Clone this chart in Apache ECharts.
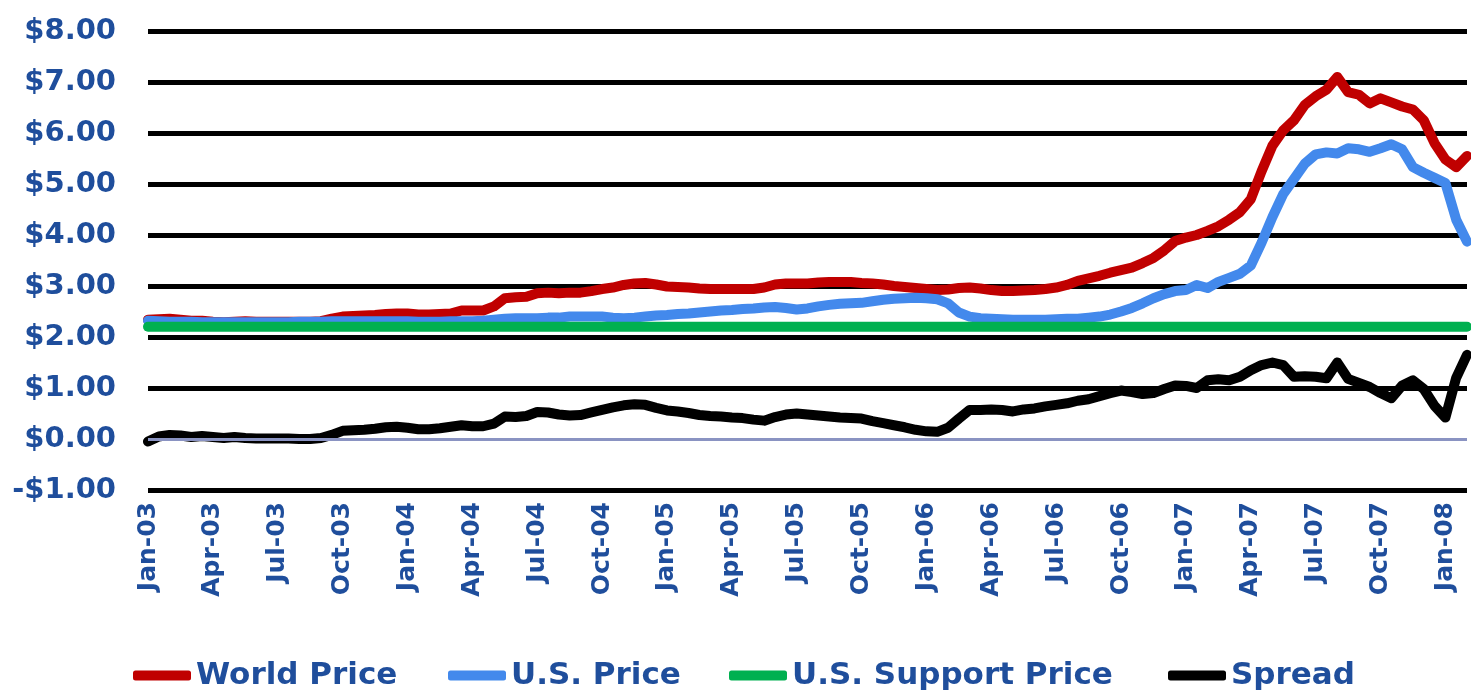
<!DOCTYPE html>
<html>
<head>
<meta charset="utf-8">
<script src="https://cdn.jsdelivr.net/npm/echarts@6.0.0/dist/echarts.min.js"></script>
<style>
  html, body { margin: 0; padding: 0; background: #fff; }
  #chart { width: 1471px; height: 696px; }
</style>
</head>
<body>
<div id="chart"></div>
<script>
// semi-monthly observations, Jan 2003 .. Feb 2008
const periods = [];
for (let y = 2003; y <= 2008; y++) {
  for (let m = 1; m <= 12; m++) {
    periods.push(y + "-" + m + "-01", y + "-" + m + "-15");
  }
}
periods.length = 123;

const quarterLabels = [
  "Jan-03", "Apr-03", "Jul-03", "Oct-03",
  "Jan-04", "Apr-04", "Jul-04", "Oct-04",
  "Jan-05", "Apr-05", "Jul-05", "Oct-05",
  "Jan-06", "Apr-06", "Jul-06", "Oct-06",
  "Jan-07", "Apr-07", "Jul-07", "Oct-07",
  "Jan-08",
];

const worldPrice = [
  2.34, 2.35, 2.36, 2.34, 2.32, 2.32, 2.30, 2.29, 2.30, 2.31,
  2.30, 2.30, 2.30, 2.30, 2.30, 2.30, 2.31, 2.36, 2.40, 2.41,
  2.42, 2.43, 2.45, 2.46, 2.46, 2.44, 2.44, 2.45, 2.46, 2.52,
  2.52, 2.52, 2.60, 2.76, 2.78, 2.79, 2.86, 2.87, 2.86, 2.87,
  2.87, 2.90, 2.94, 2.97, 3.02, 3.05, 3.06, 3.03, 2.99, 2.98,
  2.97, 2.95, 2.94, 2.94, 2.94, 2.94, 2.94, 2.97, 3.03, 3.05,
  3.05, 3.05, 3.07, 3.08, 3.08, 3.08, 3.06, 3.05, 3.03, 3.00,
  2.98, 2.96, 2.94, 2.92, 2.93, 2.96, 2.97, 2.95, 2.92, 2.90,
  2.90, 2.91, 2.92, 2.94, 2.97, 3.02, 3.10, 3.15, 3.20, 3.26,
  3.31, 3.36, 3.45, 3.55, 3.70, 3.88, 3.95, 4.00, 4.08, 4.17,
  4.30, 4.45, 4.70, 5.25, 5.75, 6.05, 6.25, 6.55, 6.72, 6.85,
  7.10, 6.80, 6.75, 6.58, 6.68, 6.60, 6.52, 6.46, 6.25, 5.80,
  5.48, 5.33, 5.55,
];

const usPrice = [
  2.32, 2.31, 2.30, 2.30, 2.30, 2.29, 2.29, 2.29, 2.29, 2.29,
  2.29, 2.29, 2.29, 2.29, 2.30, 2.30, 2.30, 2.31, 2.31, 2.31,
  2.31, 2.31, 2.31, 2.31, 2.31, 2.30, 2.30, 2.30, 2.31, 2.31,
  2.31, 2.32, 2.34, 2.36, 2.37, 2.37, 2.37, 2.38, 2.38, 2.40,
  2.40, 2.40, 2.40, 2.38, 2.37, 2.38, 2.40, 2.42, 2.43, 2.45,
  2.46, 2.48, 2.50, 2.52, 2.53, 2.55, 2.56, 2.58, 2.59, 2.57,
  2.54, 2.56, 2.60, 2.63, 2.65, 2.66, 2.67, 2.70, 2.73, 2.75,
  2.76, 2.77, 2.76, 2.74, 2.66, 2.48, 2.40, 2.37, 2.36, 2.35,
  2.34, 2.34, 2.34, 2.34, 2.35, 2.36, 2.36, 2.38, 2.40, 2.44,
  2.50, 2.57, 2.66, 2.76, 2.84, 2.90, 2.92, 3.02, 2.96, 3.08,
  3.16, 3.24, 3.40, 3.85, 4.35, 4.80, 5.10, 5.40, 5.58, 5.62,
  5.60, 5.70, 5.68, 5.63, 5.70, 5.78, 5.68, 5.33, 5.22, 5.12,
  5.02, 4.30, 3.87,
];

const supportPriceLevel = 2.2;
const supportPrice = periods.map(() => supportPriceLevel);

const spread = [
  -0.05, 0.05, 0.08, 0.07, 0.04, 0.06, 0.04, 0.02, 0.04, 0.02,
  0.01, 0.01, 0.01, 0.01, 0.00, 0.00, 0.02, 0.08, 0.16, 0.17,
  0.18, 0.20, 0.23, 0.24, 0.22, 0.19, 0.19, 0.21, 0.24, 0.27,
  0.25, 0.25, 0.30, 0.44, 0.43, 0.45, 0.53, 0.52, 0.48, 0.46,
  0.47, 0.52, 0.57, 0.62, 0.66, 0.68, 0.67, 0.61, 0.56, 0.54,
  0.51, 0.47, 0.45, 0.44, 0.42, 0.41, 0.38, 0.36, 0.43, 0.48,
  0.50, 0.48, 0.46, 0.44, 0.42, 0.41, 0.40, 0.35, 0.31, 0.27,
  0.23, 0.18, 0.15, 0.14, 0.22, 0.40, 0.57, 0.57, 0.58, 0.57,
  0.54, 0.58, 0.60, 0.64, 0.67, 0.70, 0.75, 0.78, 0.84, 0.90,
  0.95, 0.92, 0.88, 0.90, 0.98, 1.05, 1.04, 1.00, 1.15, 1.17,
  1.15, 1.22, 1.35, 1.45, 1.50, 1.45, 1.22, 1.23, 1.22, 1.19,
  1.50, 1.18, 1.10, 1.02, 0.90, 0.80, 1.05, 1.15, 0.98, 0.65,
  0.42, 1.20, 1.65,
];

const seriesNames = ["World Price", "U.S. Price", "U.S. Support Price", "Spread"];

const labelBlue = "#1f4e9c";
const fontFamily = '"DejaVu Sans", sans-serif';

const chart = echarts.init(document.getElementById("chart"));

const legendLeft = [133, 448, 729, 1168];
const legendItem = (name, left) => ({
  data: [name],
  left: left,
  top: 660,
  padding: 0,
  icon: "roundRect",
  itemWidth: 58,
  itemHeight: 10,
  textStyle: {
    color: labelBlue,
    fontFamily: fontFamily,
    fontWeight: "bold",
    fontSize: 31,
  },
});

const lineSeries = (name, data, color, extra) =>
  Object.assign(
    {
      name: name,
      type: "line",
      data: data,
      showSymbol: false,
      symbol: "none",
      lineStyle: { color: color, width: 10, cap: "round", join: "round" },
      itemStyle: { color: color },
      emphasis: { disabled: true },
    },
    extra || {}
  );

const option = {
  animation: false,
  backgroundColor: "#ffffff",
  grid: { left: 148, right: 4, top: 31, bottom: 206 },
  legend: seriesNames.map((n, i) => legendItem(n, legendLeft[i])),
  xAxis: {
    type: "category",
    data: periods,
    boundaryGap: false,
    axisLine: { show: false, onZero: false },
    axisTick: { show: false },
    splitLine: { show: false },
    axisLabel: {
      interval: (i) => i % 6 === 0,
      formatter: (v, i) => quarterLabels[Math.round(i / 6)],
      rotate: 90,
      margin: 12,
      color: labelBlue,
      fontFamily: fontFamily,
      fontWeight: "bold",
      fontSize: 25,
    },
  },
  yAxis: {
    type: "value",
    min: -1,
    max: 8,
    interval: 1,
    axisLine: { show: false },
    axisTick: { show: false },
    axisLabel: {
      margin: 32,
      color: labelBlue,
      fontFamily: fontFamily,
      fontWeight: "bold",
      fontSize: 29,
      formatter: (v) => (v < 0 ? "-$" + Math.abs(v).toFixed(2) : "$" + v.toFixed(2)),
    },
    splitLine: {
      lineStyle: {
        width: 5,
        color: ["#000", "rgba(0,0,0,0)", "#000", "#000", "#000", "#000", "#000", "#000", "#000", "#000"],
      },
    },
  },
  series: [
    lineSeries(seriesNames[0], worldPrice, "#c00000"),
    lineSeries(seriesNames[1], usPrice, "#4389ec"),
    lineSeries(seriesNames[2], supportPrice, "#00b050", {
      markLine: {
        silent: true,
        symbol: "none",
        label: { show: false },
        lineStyle: { color: "#8a93c2", width: 3, type: "solid" },
        data: [{ yAxis: 0 }],
      },
    }),
    lineSeries(seriesNames[3], spread, "#000000"),
  ],
};

chart.setOption(option);
</script>
</body>
</html>
